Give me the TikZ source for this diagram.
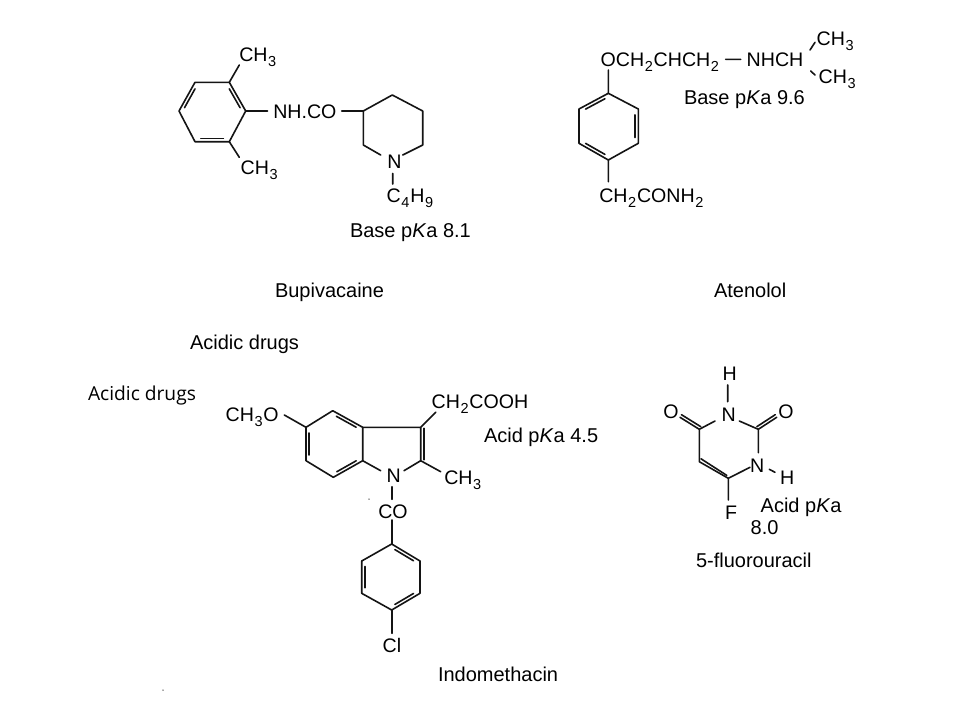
\documentclass[tikz,border=0pt]{standalone}
\usepackage{fontspec}
\setmainfont{Liberation Sans}
\newfontfamily\slidefont{Open Sans}
\usetikzlibrary{calc}
\newcommand{\lowered}[1]{\hspace{0.6pt}\raisebox{-0.28em}{\fontsize{14.5}{15}\selectfont #1}\hspace{0.8pt}}
\newcommand{\inner}[3]{\draw[bond] ($(#1)!0.13!(#2)!0.11!(#3)$) -- ($(#2)!0.13!(#1)!0.11!(#3)$);}
\tikzset{
  bond/.style={line width=1.6pt,black!92,line cap=round,line join=round},
  chem/.style={anchor=base west,inner sep=0pt,outer sep=0pt,font=\fontsize{19.6}{21}\selectfont,text=black},
  caption/.style={chem,font=\fontsize{20}{22}\selectfont},
  slide/.style={chem,font=\slidefont\fontsize{19.2}{21}\selectfont},
  speck/.style={circle,fill=black!70,inner sep=0pt,minimum size=1.5pt}
}
\begin{document}
\begin{tikzpicture}[x=1pt,y=-1pt]
\useasboundingbox (0,0) rectangle (960,720);
\fill[white] (0,0) rectangle (960,720);
% ---- Bupivacaine
\foreach \n/\x/\y in {a1/195/82.3,a2/229.3/82.3,a3/245.7/111,a4/229.3/141.7,a5/195/141.7,a6/179/111,ac/212/111.5,
  au/239.3/65,al/239.3/157.3,an/267.5/111,
  p0/341.7/111,p1/363.3/111,p2/392.3/95,p3/422.7/111,p4/422.7/145,p5/402.7/155,p6/363.3/145,p7/380.7/155,
  nb1/392.7/173.5,nb2/392.7/184}
  {\coordinate (\n) at (\x,\y);}
\draw[bond] (a1)--(a2)--(a3)--(a4)--(a5)--(a6)--cycle;
\inner{a2}{a3}{ac}\inner{a4}{a5}{ac}\inner{a6}{a1}{ac}
\draw[bond] (a2)--(au) (a4)--(al) (a3)--(an);
\draw[bond] (p0)--(p1)--(p2)--(p3)--(p4)--(p5) (p1)--(p6)--(p7) (nb1)--(nb2);
\node[chem] (b1) at (239.3,61.5) {CH\lowered{3}};
\node[chem] (b2) at (240.7,174) {CH\lowered{3}};
\node[chem] (b3) at (273.3,118.5) {NH.CO};
\node[chem] (b4) at (387.3,168) {N};
\node[chem] (b5) at (386.7,202) {C\lowered{4}H\lowered{9}};
\node[caption] (b6) at (350,237.5) {Base p\textit{K}a 8.1};
\node[caption] (b7) at (275,297) {Bupivacaine};
% ---- Atenolol
\foreach \n/\x/\y in {t1/608.3/93.3,t2/638.3/109,t3/638.3/143.3,t4/608.3/160,t5/579/143.3,t6/579/109,tc/608.3/126.5,
  to/608.3/70,tb/608.3/181.7,td1/725.7/59.3,td2/740.7/59.3,te1/810/50,te2/815/42.3,tf1/810.7/71,tf2/815/75}
  {\coordinate (\n) at (\x,\y);}
\draw[bond] (t1)--(t2)--(t3)--(t4)--(t5)--(t6)--cycle;
\inner{t6}{t1}{tc}\inner{t2}{t3}{tc}\inner{t4}{t5}{tc}
\draw[bond] (to)--(t1) (t4)--(tb) (td1)--(td2) (te1)--(te2) (tf1)--(tf2);
\node[chem] (c1) at (600.7,66) {OCH\lowered{2}CHCH\lowered{2}};
\node[chem] (c2) at (746.7,66) {NHCH};
\node[chem] (c3) at (816.7,45) {CH\lowered{3}};
\node[chem] (c4) at (818.7,83.5) {CH\lowered{3}};
\node[caption] (c5) at (684,104) {Base p\textit{K}a 9.6};
\node[chem] (c6) at (599.3,202) {CH\lowered{2}CONH\lowered{2}};
\node[caption] (c7) at (714,297) {Atenolol};
% ---- Headings
\node[caption] (h1) at (190,349) {Acidic drugs};
\node[slide] (h2) at (88,400) {Acidic drugs};
% ---- Indomethacin
\foreach \n/\x/\y in {i1/306/427.3,i2/332.7/410.7,i3/362.7/427.3,i4/362.7/460.7,i5/333.3/477.3,i6/306/460.7,ic/334.5/444,
  io/284.3/415,i7/420.7/427.3,i8/420.7/460.7,i9/404/470.7,i10/380.7/470.7,
  ia/435.7/412.3,im/440.7/471.7,ib1/391.7/486.7,ib2/391.7/499.3,ib3/391.7/520,
  k1/391.7/544,k2/420/561,k3/420/593.3,k4/391.7/610,k5/361.7/593.3,k6/361.7/561,kc/391/577,kcl/391.7/633.3}
  {\coordinate (\n) at (\x,\y);}
\draw[bond] (i1)--(i2)--(i3)--(i4)--(i5)--(i6)--cycle;
\inner{i2}{i3}{ic}\inner{i4}{i5}{ic}\inner{i6}{i1}{ic}
\draw[bond] (io)--(i1) (i3)--(i7)--(i8)--(i9) (i4)--(i10) (i7)--(ia) (i8)--(im);
\draw[bond] ($(i7)+(3,1)$)--($(i8)+(3,-1)$);
\draw[bond] (ib1)--(ib2) (ib3)--(k1);
\draw[bond] (k1)--(k2)--(k3)--(k4)--(k5)--(k6)--cycle;
\inner{k1}{k2}{kc}\inner{k3}{k4}{kc}\inner{k5}{k6}{kc}
\draw[bond] (k4)--(kcl);
\node[chem] (d1) at (225.7,421.5) {CH\lowered{3}O};
\node[chem] (d2) at (431.7,408) {CH\lowered{2}COOH};
\node[caption] (d3) at (484,442) {Acid p\textit{K}a 4.5};
\node[chem] (d4) at (386.7,482) {N};
\node[chem] (d5) at (444.3,484.5) {CH\lowered{3}};
\node[chem] (d6) at (378.3,518) {CO};
\node[chem] (d7) at (382.7,652) {Cl};
\node[caption] (d8) at (438,681) {Indomethacin};
\node[speck] (s1) at (369,499) {};
\node[speck] (s2) at (163,690) {};
% ---- 5-fluorouracil
\foreach \n/\x/\y in {u1/727.7/385,u2/727.7/401.7,u3/715/421,u4/699.3/429.3,u5/739.3/421,u6/758.3/429.3,u7/680/417.3,u8/776.7/417.3,
  u9/758.3/452.7,u10/699.3/461.7,u11/728.3/478.3,u12/750/467.3,u13/769.3/469.3,u14/775/472.3,u15/728.3/500}
  {\coordinate (\n) at (\x,\y);}
\draw[bond] (u1)--(u2) (u3)--(u4)--(u10)--(u11)--(u12) (u5)--(u6)--(u9) (u13)--(u14) (u11)--(u15);
\draw[bond] (u4)--(u7) (u6)--(u8);
\draw[bond] ($(u4)+(1.5,-2.6)$)--($(u7)+(1.5,-2.6)$);
\draw[bond] ($(u6)+(-1.5,-2.6)$)--($(u8)+(-1.5,-2.6)$);
\draw[bond] ($(u10)+(1.7,-2.9)$)--($(u11)+(-1.5,-2.9)$);
\node[chem] (e1) at (722.7,380.5) {H};
\node[chem] (e2) at (721.7,421.5) {N};
\node[chem] (e3) at (663.3,418) {O};
\node[chem] (e4) at (778.3,418) {O};
\node[chem] (e5) at (750,472) {N};
\node[chem] (e6) at (780,484.5) {H};
\node[chem] (e7) at (725,519) {F};
\node[caption] (e8) at (760.7,512.5) {Acid p\textit{K}a};
\node[caption] (e9) at (750.7,534) {8.0};
\node[caption] (e10) at (696,567) {5-fluorouracil};
\end{tikzpicture}
\end{document}
